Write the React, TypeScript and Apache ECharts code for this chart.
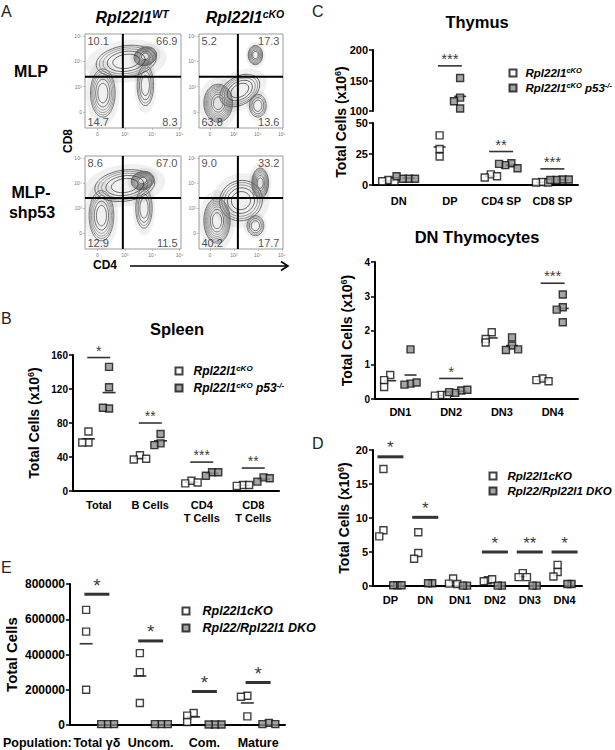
import React, { useEffect, useRef } from "react";
import * as echarts from "echarts";

const FONT = '"Liberation Sans", Arial, Helvetica, sans-serif';

// ---------- Panel A: flow cytometry (CD4 x CD8), log decades ----------
const flowTickLabels = ["0", "10³", "10⁴", "10⁵"];
const flowX = [-0.45, 3.05];
const flowY = [-0.63, 3.08];
// quadrant percentages: upper-left, upper-right, lower-left, lower-right
const quadWtMlp = [10.1, 66.9, 14.7, 8.3];
const quadKoMlp = [5.2, 17.3, 63.8, 13.6];
const quadWtShp53 = [8.6, 67.0, 12.9, 11.5];
const quadKoShp53 = [9.0, 33.2, 40.2, 17.7];
// gates [CD4 gate, CD8 gate]
const gateWtMlp = [0.93, 1.39];
const gateKoMlp = [1.17, 1.39];
const gateWtShp53 = [0.93, 1.4];
const gateKoShp53 = [1.17, 1.4];
// contour populations: [cx, cy, rx, ry, rotationDeg, rings]
const blobsWtMlp = [
  [1.75, 2.2, 0.42, 0.36, 20, 8],
  [1.05, 2.0, 1.1, 0.62, 8, 5],
  [0.2, 0.75, 0.45, 0.95, 0, 6],
  [1.75, 1.05, 0.3, 0.8, 0, 4],
];
const blobsKoMlp = [
  [0.35, 0.35, 0.6, 0.75, 0, 9],
  [1.9, 2.25, 0.3, 0.38, 0, 7],
  [1.25, 0.85, 0.9, 0.55, 30, 5],
  [2.0, 0.25, 0.35, 0.45, 0, 4],
];
const blobsWtShp53 = [
  [1.65, 2.1, 0.42, 0.36, 15, 8],
  [1.0, 1.9, 1.1, 0.62, 8, 5],
  [0.15, 0.7, 0.45, 1.0, 0, 6],
  [1.7, 1.0, 0.3, 0.8, 0, 4],
];
const blobsKoShp53 = [
  [0.3, 0.5, 0.55, 0.9, 0, 8],
  [2.1, 2.0, 0.35, 0.6, 0, 8],
  [1.3, 1.3, 0.9, 0.8, 20, 5],
  [1.9, 0.3, 0.35, 0.4, 0, 4],
];

// ---------- Panel B: Spleen ----------
const spleenCats = ["Total", "B Cells", "CD4\nT Cells", "CD8\nT Cells"];
const spleenCko = [[70, 57, 57], [42, 37, 38], [12, 9, 10], [7, 6, 7]];
const spleenP53 = [[146, 122, 97, 98], [67, 56, 54], [22, 18, 22], [16, 11, 15]];
const spleenSigY = [157, 80, 34, 27];
const spleenSigStars = ["*", "**", "***", "**"];

// ---------- Panel C: Thymus ----------
const thymusCats = ["DN", "DP", "CD4 SP", "CD8 SP"];
const thymusCko = [[4, 3, 3], [40, 29, 23], [8.6, 6, 7], [2.4, 2, 2]];
const thymusP53 = [[5, 5, 5, 7], [154, 122, 116, 104], [17.5, 16, 13.5, 17], [4.4, 4, 4.4, 4]];
const thymusSigY = [null, 174, 27, 13];
const thymusSigStars = ["", "***", "**", "***"];

// ---------- DN Thymocytes ----------
const dnCats = ["DN1", "DN2", "DN3", "DN4"];
const dnCko = [[0.7, 0.55, 0.35], [0.12, 0.1, 0.11], [1.95, 1.75, 1.65], [0.6, 0.55, 0.52]];
const dnP53 = [[1.45, 0.45, 0.42, 0.48], [0.25, 0.18, 0.27, 0.2], [1.8, 1.56, 1.43, 1.45], [3.05, 2.68, 2.61, 2.24]];
const dnSigY = [null, 0.6, null, 3.38];
const dnSigStars = ["", "*", "", "***"];

// ---------- Panel D ----------
const dCats = ["DP", "DN", "DN1", "DN2", "DN3", "DN4"];
const dCko = [[17.2, 8.2, 7.3], [7.9, 4.85, 4.0], [1.1, 0.35, 0.3], [0.85, 0.7, 1.0], [1.9, 1.3, 1.3], [3.1, 2.06, 1.4]];
const dDko = [[0.1, 0.1, 0.1], [0.4, 0.4], [0.05, 0.05], [0.05, 0.05], [0.05, 0.05], [0.3, 0.3]];
const dSigY = [19, 10.1, null, 5, 5, 5];
const dSigStars = ["*", "*", "", "*", "**", "*"];

// ---------- Panel E ----------
const eCats = ["Total γδ", "Uncom.", "Com.", "Mature"];
const eCko = [[653000, 530000, 200000], [408000, 300000, 125000], [68000, 53000, 17000], [166000, 160000, 49000]];
const eDko = [[5000, 5000, 5000], [5000, 5000, 5000], [3000, 3000, 3000], [12000, 5000, 5000]];
const eSigY = [742000, 477000, 190000, 241000];
const eSigStars = ["*", "*", "*", "*"];

const legendLabels: Record<string, string> = {
  spleen_cko: "{p|}{t|Rpl22l1}{s|cKO}",
  spleen_p53: "{p|}{t|Rpl22l1}{s|cKO}{t| p53}{s|-/-}",
  thymus_cko: "{p|}{t|Rpl22l1}{s|cKO}",
  thymus_p53: "{p|}{t|Rpl22l1}{s|cKO}{t| p53}{s|-/-}",
  d_cko: "{q|}{t|Rpl22l1cKO}",
  d_dko: "{q|}{t|Rpl22/Rpl22l1 DKO}",
  e_cko: "{q|}{t|Rpl22l1cKO}",
  e_dko: "{q|}{t|Rpl22/Rpl22l1 DKO}",
};

function jitter(groups: number[][], side: number, thr: number, step: number) {
  const out: number[][] = [];
  groups.forEach((vals, ci) => {
    const placed: number[] = [];
    vals.forEach((v) => {
      const k = placed.filter((p) => Math.abs(p - v) < thr).length;
      placed.push(v);
      const off = k === 0 ? 0 : (k % 2 === 1 ? -1 : 1) * Math.ceil(k / 2) * step;
      out.push([ci + side + off, v]);
    });
  });
  return out;
}

const meanOf = (a: number[]) => a.reduce((s, v) => s + v, 0) / a.length;

type Panel = {
  left: number; top: number; width: number; height: number;
  cats: string[]; showX: boolean;
  a: number[][]; b: number[][]; nameA: string; nameB: string;
  keep: (v: number) => boolean;
  yMin: number; yMax: number; yInterval: number;
  sigY: (number | null)[]; sigStars: string[];
  meansA: boolean; meansB: boolean;
  font: number; catFont: number; labelMargin: number;
  yName?: string; yNameGap?: number; yNameSize?: number;
  sigW: number; sigH: number; starSize: number; starDist: number; meanW: number;
};

function addPanel(o: any, p: Panel) {
  const g = o.grid.length;
  o.grid.push({ left: p.left, top: p.top, width: p.width, height: p.height });
  const xc = o.xAxis.length;
  o.xAxis.push({
    type: "category", gridIndex: g, data: p.cats, show: p.showX, boundaryGap: true,
    axisLine: { onZero: false, lineStyle: { color: "#000", width: 2 } },
    axisTick: { alignWithLabel: true, length: 4, lineStyle: { color: "#000", width: 1.5 } },
    axisLabel: { interval: 0, margin: p.labelMargin, fontFamily: FONT, fontWeight: "bold", fontSize: p.catFont, color: "#000", lineHeight: 13 },
  });
  o.xAxis.push({ type: "value", gridIndex: g, min: -0.5, max: p.cats.length - 0.5, show: false, axisLine: { onZero: false } });
  const xv = xc + 1;
  const yi = o.yAxis.length;
  o.yAxis.push({
    type: "value", gridIndex: g, min: p.yMin, max: p.yMax, interval: p.yInterval,
    splitLine: { show: false },
    axisLine: { show: true, onZero: false, lineStyle: { color: "#000", width: 2 } },
    axisTick: { show: true, length: 4, lineStyle: { color: "#000", width: 1.5 } },
    axisLabel: { margin: 5, formatter: (v: number) => String(v), fontFamily: FONT, fontWeight: "bold", fontSize: p.font, color: "#000" },
    name: p.yName || "", nameLocation: "middle", nameRotate: 90, nameGap: p.yNameGap || 30,
    nameTextStyle: {
      fontFamily: FONT, fontWeight: "bold", fontSize: p.yNameSize || 14, color: "#000",
      rich: {
        t: { fontFamily: FONT, fontWeight: "bold", fontSize: p.yNameSize || 14, color: "#000", lineHeight: 16 },
        s: { fontFamily: FONT, fontWeight: "bold", fontSize: 9, color: "#000", lineHeight: 10, verticalAlign: "top" },
      },
    },
  });
  const pxPerUnit = p.height / (p.yMax - p.yMin);
  const thr = 7 / pxPerUnit;
  const step = 0.12;
  const ptsA = jitter(p.a, -0.2, thr, step).filter((d) => p.keep(d[1]));
  const ptsB = jitter(p.b, 0.2, thr, step).filter((d) => p.keep(d[1]));
  const base = { xAxisIndex: xv, yAxisIndex: yi, silent: true };
  if (p.meansA || p.meansB) {
    const means: number[][] = [];
    if (p.meansA) p.a.forEach((v, i) => means.push([i - 0.2, meanOf(v)]));
    if (p.meansB) p.b.forEach((v, i) => means.push([i + 0.2, meanOf(v)]));
    o.series.push({ ...base, type: "scatter", symbol: "rect", symbolSize: [p.meanW, 1.6], itemStyle: { color: "#000" }, z: 3, data: means.filter((d) => p.keep(d[1])) });
  }
  o.series.push({ ...base, type: "scatter", name: p.nameA, symbol: "rect", symbolSize: 7, z: 4,
    itemStyle: { color: "#fff", borderColor: "#111", borderWidth: 1.4 }, data: ptsA });
  o.series.push({ ...base, type: "scatter", name: p.nameB, symbol: "rect", symbolSize: 7, z: 4,
    itemStyle: { color: "#8f8f8f", borderColor: "#111", borderWidth: 1.4 }, data: ptsB });
  const sig: any[] = [];
  const stars: string[] = [];
  p.sigY.forEach((v, i) => {
    if (v !== null && p.keep(v)) { sig.push([i, v]); stars.push(p.sigStars[i]); }
  });
  o.series.push({ ...base, type: "scatter", symbol: "rect", symbolSize: [p.sigW, p.sigH], z: 5,
    itemStyle: { color: "#000" }, data: sig,
    label: { show: true, position: "top", distance: p.starDist, formatter: (q: any) => stars[q.dataIndex],
      fontFamily: FONT, fontSize: p.starSize, color: "#000" } });
}

function addFlow(o: any, box: number[], quad: number[], gate: number[], blobs: number[][]) {
  const g = o.grid.length;
  o.grid.push({ left: box[0], top: box[1], width: box[2], height: box[3], show: true, borderColor: "#9a9a9a", borderWidth: 1 });
  const xi = o.xAxis.length;
  const yi = o.yAxis.length;
  const tickVals = [0, 1, 2, 3];
  o.xAxis.push({ type: "value", gridIndex: g, min: flowX[0], max: flowX[1], splitLine: { show: false }, axisLine: { show: false, onZero: false },
    axisTick: { show: true, length: 2, customValues: tickVals, lineStyle: { color: "#999", width: 0.6 } },
    axisLabel: { show: true, customValues: tickVals, formatter: (v: number) => flowTickLabels[Math.round(v)], fontSize: 5, color: "#777", margin: 3 } });
  o.yAxis.push({ type: "value", gridIndex: g, min: flowY[0], max: flowY[1], splitLine: { show: false }, axisLine: { show: false, onZero: false },
    axisTick: { show: true, length: 2, customValues: tickVals, lineStyle: { color: "#999", width: 0.6 } },
    axisLabel: { show: true, customValues: tickVals, formatter: (v: number) => flowTickLabels[Math.round(v)], fontSize: 5, color: "#777", margin: 3 } });
  const base = { xAxisIndex: xi, yAxisIndex: yi, silent: true };
  o.series.push({ ...base, type: "custom", clip: true, z: 2, data: blobs,
    renderItem: (_params: any, api: any) => {
      const c = api.coord([api.value(0), api.value(1)]);
      const s = api.size([api.value(2), api.value(3)]);
      const rot = (api.value(4) * Math.PI) / 180;
      const rings = api.value(5);
      const children: any[] = [
        { type: "ellipse", shape: { cx: 0, cy: 0, rx: s[0] * 1.35, ry: s[1] * 1.35 }, style: { fill: "rgba(0,0,0,0.06)" } },
      ];
      for (let k = 1; k <= rings; k++) {
        const f = Math.sqrt(k / rings);
        children.push({ type: "ellipse", shape: { cx: 0, cy: 0, rx: s[0] * f, ry: s[1] * f },
          style: { fill: "none", stroke: k <= 2 ? "#222" : "#666", lineWidth: k === rings ? 0.9 : 0.6 } });
      }
      return { type: "group", x: c[0], y: c[1], rotation: rot, children };
    } });
  const lineStyle = { color: "#000", width: 2 };
  o.series.push({ ...base, type: "line", symbol: "none", z: 3, lineStyle, data: [[gate[0], flowY[0]], [gate[0], flowY[1]]] });
  o.series.push({ ...base, type: "line", symbol: "none", z: 3, lineStyle, data: [[flowX[0], gate[1]], [flowX[1], gate[1]]] });
  const lab = (val: number, pos: number[], align: string, va: string) => ({
    show: true, formatter: val.toFixed(1), position: pos, align, verticalAlign: va,
    fontFamily: FONT, fontSize: 11, color: "#222",
  });
  o.series.push({ ...base, type: "scatter", symbolSize: 1, itemStyle: { color: "rgba(0,0,0,0)" }, z: 6,
    data: [
      { value: [flowX[0], flowY[1]], label: lab(quad[0], [3, 2], "left", "top") },
      { value: [flowX[1], flowY[1]], label: lab(quad[1], [-3, 2], "right", "top") },
      { value: [flowX[0], flowY[0]], label: lab(quad[2], [3, 0], "left", "bottom") },
      { value: [flowX[1], flowY[0]], label: lab(quad[3], [-3, 0], "right", "bottom") },
    ] });
}

function legendFor(names: string[], left: number, top: number, gap: number, size: number, pad: number) {
  return {
    orient: "vertical", left, top, padding: 0, itemWidth: 7, itemHeight: 7, itemGap: gap, selectedMode: false,
    data: names.map((n) => ({ name: n, icon: "rect" })),
    formatter: (n: string) => legendLabels[n],
    textStyle: {
      fontFamily: FONT, fontSize: size, fontWeight: "bold", fontStyle: "italic", color: "#000",
      rich: {
        p: { width: pad },
        q: { width: pad },
        t: { fontFamily: FONT, fontSize: size, fontWeight: "bold", fontStyle: "italic", color: "#000", lineHeight: 14 },
        s: { fontFamily: FONT, fontSize: size - 4, fontWeight: "bold", fontStyle: "italic", color: "#000", lineHeight: 9, verticalAlign: "top" },
      },
    },
  };
}

function txt(text: string, x: number, y: number, size: number, extra: any = {}) {
  return {
    type: "text", x, y, rotation: extra.rotation || 0,
    style: {
      text, fontFamily: FONT, fontSize: size, fontWeight: extra.weight || "bold", fontStyle: extra.italic ? "italic" : "normal",
      fill: extra.color || "#000", align: extra.align || "center", verticalAlign: "middle",
      rich: extra.rich,
    },
  };
}

function buildOption() {
  const o: any = { animation: false, backgroundColor: "#fff", grid: [], xAxis: [], yAxis: [], series: [], legend: [] };

  addFlow(o, [85, 34, 96, 94], quadWtMlp, gateWtMlp, blobsWtMlp);
  addFlow(o, [199, 34, 84, 94], quadKoMlp, gateKoMlp, blobsKoMlp);
  addFlow(o, [85, 156, 96, 93], quadWtShp53, gateWtShp53, blobsWtShp53);
  addFlow(o, [199, 156, 84, 93], quadKoShp53, gateKoShp53, blobsKoShp53);

  const yName6 = "{t|Total Cells (x10}{s|6}{t|)}";

  addPanel(o, {
    left: 73, top: 355, width: 206, height: 136, cats: spleenCats, showX: true,
    a: spleenCko, b: spleenP53, nameA: "spleen_cko", nameB: "spleen_p53", keep: () => true,
    yMin: 0, yMax: 160, yInterval: 40, sigY: spleenSigY, sigStars: spleenSigStars,
    meansA: true, meansB: true, font: 10, catFont: 11, labelMargin: 7,
    yName: yName6, yNameGap: 31, yNameSize: 14,
    sigW: 23, sigH: 1.6, starSize: 14, starDist: -1, meanW: 13,
  });
  // Thymus broken axis: upper (100-200) and lower (0-50)
  addPanel(o, {
    left: 373, top: 50, width: 205, height: 61, cats: thymusCats, showX: false,
    a: thymusCko, b: thymusP53, nameA: "thymus_cko", nameB: "thymus_p53", keep: (v) => v >= 100,
    yMin: 100, yMax: 200, yInterval: 50, sigY: thymusSigY, sigStars: thymusSigStars,
    meansA: true, meansB: true, font: 11, catFont: 11, labelMargin: 8,
    sigW: 24, sigH: 1.6, starSize: 15, starDist: -1, meanW: 12,
  });
  addPanel(o, {
    left: 373, top: 123, width: 205, height: 62, cats: thymusCats, showX: true,
    a: thymusCko, b: thymusP53, nameA: "thymus_cko", nameB: "thymus_p53", keep: (v) => v < 100,
    yMin: 0, yMax: 50, yInterval: 25, sigY: thymusSigY, sigStars: thymusSigStars,
    meansA: true, meansB: true, font: 11, catFont: 11, labelMargin: 9,
    sigW: 24, sigH: 1.6, starSize: 15, starDist: -1, meanW: 12,
  });
  addPanel(o, {
    left: 375, top: 262, width: 203, height: 137, cats: dnCats, showX: true,
    a: dnCko, b: dnP53, nameA: "dn_cko", nameB: "dn_p53", keep: () => true,
    yMin: 0, yMax: 4, yInterval: 1, sigY: dnSigY, sigStars: dnSigStars,
    meansA: true, meansB: true, font: 10, catFont: 11, labelMargin: 6,
    yName: yName6, yNameGap: 20, yNameSize: 14,
    sigW: 24, sigH: 1.6, starSize: 15, starDist: -1, meanW: 12,
  });
  addPanel(o, {
    left: 373, top: 450, width: 209, height: 136, cats: dCats, showX: true,
    a: dCko, b: dDko, nameA: "d_cko", nameB: "d_dko", keep: () => true,
    yMin: 0, yMax: 20, yInterval: 5, sigY: dSigY, sigStars: dSigStars,
    meansA: false, meansB: false, font: 11, catFont: 11, labelMargin: 7,
    yName: yName6, yNameGap: 21, yNameSize: 14,
    sigW: 26, sigH: 3, starSize: 17, starDist: -1, meanW: 12,
  });
  addPanel(o, {
    left: 70, top: 584, width: 215, height: 141, cats: eCats, showX: true,
    a: eCko, b: eDko, nameA: "e_cko", nameB: "e_dko", keep: () => true,
    yMin: 0, yMax: 800000, yInterval: 200000, sigY: eSigY, sigStars: eSigStars,
    meansA: true, meansB: false, font: 12, catFont: 12.5, labelMargin: 11,
    yName: "{t|Total Cells}", yNameGap: 51, yNameSize: 15,
    sigW: 25, sigH: 3, starSize: 19, starDist: -2, meanW: 13,
  });

  o.legend.push(legendFor(["spleen_cko", "spleen_p53"], 174.5, 364, 4, 12, 6));
  o.legend.push(legendFor(["thymus_cko", "thymus_p53"], 508.5, 66, 2, 11.5, 4));
  o.legend.push(legendFor(["d_cko", "d_dko"], 488.5, 470, 3, 11.5, 6));
  o.legend.push(legendFor(["e_cko", "e_dko"], 181.5, 604.5, 4, 12.5, 8));

  const supRich = {
    t: { fontFamily: FONT, fontSize: 16, fontWeight: "bold", fontStyle: "italic", lineHeight: 18 },
    s: { fontFamily: FONT, fontSize: 10.5, fontWeight: "bold", fontStyle: "italic", lineHeight: 11, verticalAlign: "top" },
  };
  const yRich = {
    t: { fontFamily: FONT, fontSize: 14, fontWeight: "bold", lineHeight: 16 },
    s: { fontFamily: FONT, fontSize: 9, fontWeight: "bold", lineHeight: 10, verticalAlign: "top" },
  };

  o.graphic = [
    txt("A", 1, 11, 16, { weight: "normal", align: "left", color: "#222" }),
    txt("B", 1, 318, 16, { weight: "normal", align: "left", color: "#222" }),
    txt("C", 312, 11, 16, { weight: "normal", align: "left", color: "#222" }),
    txt("D", 312, 443, 16, { weight: "normal", align: "left", color: "#222" }),
    txt("E", 1, 567, 16, { weight: "normal", align: "left", color: "#222" }),
    txt("{t|Rpl22l1}{s|WT}", 132, 17, 16, { rich: supRich }),
    txt("{t|Rpl22l1}{s|cKO}", 245, 17, 16, { rich: supRich }),
    txt("MLP", 31, 71, 16),
    txt("MLP-", 31, 192, 16),
    txt("shp53", 32, 212, 16),
    txt("CD8", 68, 141, 12, { rotation: Math.PI / 2 }),
    txt("CD4", 105, 265, 12),
    { type: "line", shape: { x1: 130, y1: 266, x2: 287, y2: 266 }, style: { stroke: "#000", lineWidth: 1.6 } },
    { type: "polyline", shape: { points: [[281, 261.5], [288, 266], [281, 270.5]] }, style: { stroke: "#000", lineWidth: 1.6, fill: "none" } },
    txt("Spleen", 177, 329, 16.5),
    txt("Thymus", 477, 22, 16.5),
    txt("DN Thymocytes", 477, 237, 16.5),
    txt("{t|Total Cells (x10}{s|6}{t|)}", 341, 122, 14, { rotation: Math.PI / 2, rich: yRich }),
    txt("Population:", 3, 743, 12.5, { align: "left" }),
  ];
  return o;
}

export default function App() {
  const ref = useRef<HTMLDivElement>(null);
  useEffect(() => {
    if (!ref.current) return;
    const chart = echarts.init(ref.current, null, { renderer: "svg" });
    chart.setOption(buildOption());
    return () => chart.dispose();
  }, []);
  return (
    <div
      ref={ref}
      style={{ position: "absolute", left: 0, top: 0, width: 615, height: 750, background: "#fff" }}
    />
  );
}
